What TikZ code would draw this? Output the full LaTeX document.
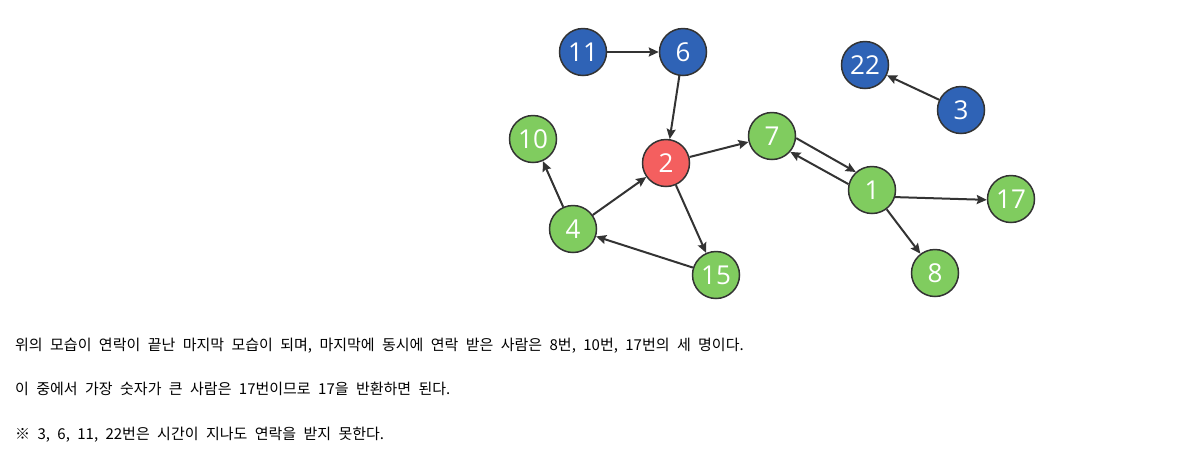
\documentclass[tikz,border=0pt]{standalone}
\usepackage{fontspec}
\setmainfont{Open Sans}
\newfontfamily\kor[WordSpace=2.2]{Noto Sans CJK KR}
\usetikzlibrary{arrows.meta}
\definecolor{ngreen}{HTML}{80CC5F}
\definecolor{nblue}{HTML}{2F63B6}
\definecolor{nred}{HTML}{F45F5F}
\definecolor{edge}{HTML}{333333}
\tikzset{
  vtx/.style={circle, draw=edge, line width=1.5pt, minimum size=47pt, inner sep=0pt, text=white, font=\fontsize{26}{26}\selectfont},
  gv/.style={vtx, fill=ngreen},
  bv/.style={vtx, fill=nblue},
  rv/.style={vtx, fill=nred},
  arr/.style={draw=edge, line width=2pt, -{Stealth[length=10pt,width=9pt,inset=1.5pt]}},
  para/.style={anchor=base west, inner sep=0pt, font=\kor\fontsize{15}{15}\selectfont, text=black}
}
\begin{document}
\begin{tikzpicture}[x=1pt,y=-1pt]
\useasboundingbox (0,0) rectangle (1188,459);
\node[bv] (n11) at (583,52) {11};
\node[bv] (n6) at (683,52) {6};
\node[bv] (n22) at (865,65) {22};
\node[bv] (n3) at (961,110) {3};
\node[gv] (n10) at (533,139) {10};
\node[rv] (n2) at (666,163) {2};
\node[gv] (n7) at (772,136) {7};
\node[gv] (n1) at (872,190) {1};
\node[gv] (n17) at (1011,199) {17};
\node[gv] (n4) at (573,229) {4};
\node[gv] (n15) at (716,275) {15};
\node[gv] (n8) at (935,273) {8};
\draw[arr] (n11) -- (n6);
\draw[arr] (n6) -- (n2);
\draw[arr] (n3) -- (n22);
\draw[arr] (n2) -- (n7);
\draw[arr] (n2) -- (n15);
\draw[arr] (n4) -- (n2);
\draw[arr] (n4) -- (n10);
\draw[arr] (n15) -- (n4);
\draw[arr] (n7.-5) -- (n1.132);
\draw[arr] (n1.166) -- (n7.-41);
\draw[arr] (n1.-17) -- (n17.182);
\draw[arr] (n1) -- (n8);
\node[para] (t1) at (15,350) {위의 모습이 연락이 끝난 마지막 모습이 되며, 마지막에 동시에 연락 받은 사람은 8번, 10번, 17번의 세 명이다.};
\node[para] (t2) at (15,394) {이 중에서 가장 숫자가 큰 사람은 17번이므로 17을 반환하면 된다.};
\node[para] (t3) at (15,439) {※ 3, 6, 11, 22번은 시간이 지나도 연락을 받지 못한다.};
\end{tikzpicture}
\end{document}
